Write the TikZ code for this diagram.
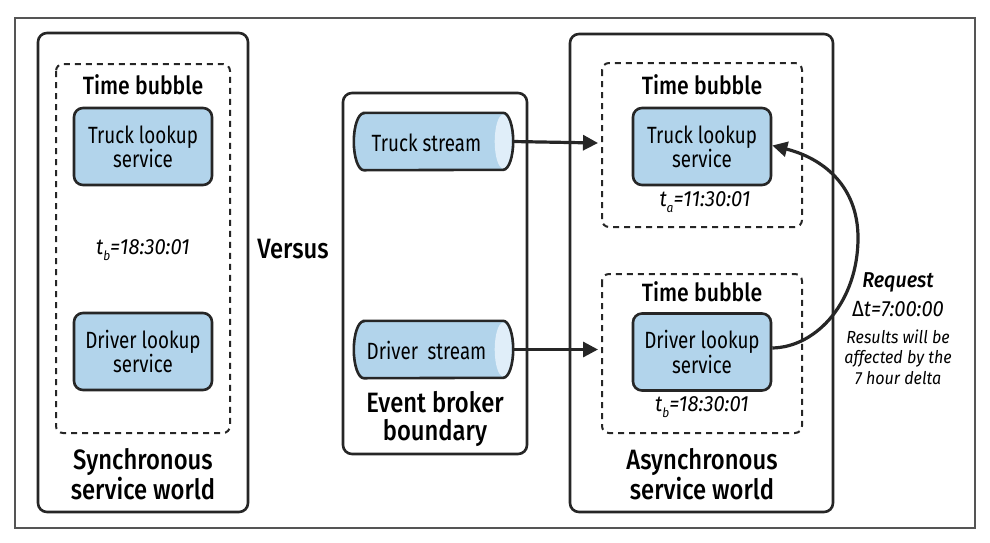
\documentclass[tikz,border=0pt]{standalone}
\usepackage{fontspec}
\setmainfont{Fira Sans}[FakeStretch=0.8]
\newfontfamily\med{Fira Sans Medium}[FakeStretch=0.85]
\newfontfamily\itf{Fira Sans}[FakeStretch=0.92]
\newfontfamily\meditf{Fira Sans Medium}[FakeStretch=0.92]
\usetikzlibrary{arrows.meta}
\definecolor{boxblue}{RGB}{178,212,235}
\definecolor{capblue}{RGB}{224,238,249}
\definecolor{edge}{RGB}{38,38,38}
\definecolor{framegray}{RGB}{85,85,85}
\newcommand{\sbs}[1]{{\fontsize{13}{13}\selectfont\raisebox{-6pt}{#1}}}
\begin{document}
\begin{tikzpicture}[x=1pt,y=-1pt,
  container/.style={draw=edge, line width=2.6pt, rounded corners=9pt},
  bubble/.style={draw=edge, line width=2pt, dash pattern=on 6pt off 5pt, rounded corners=7pt},
  service/.style={draw=edge, line width=2.6pt, rounded corners=9pt, fill=boxblue,
    minimum width=138pt, minimum height=77pt, align=center, inner sep=0pt,
    font=\fontsize{23.5}{21}\selectfont},
  streamslot/.style={minimum width=159pt, minimum height=57pt, inner sep=0pt},
  streamtext/.style={font=\fontsize{23.5}{21}\selectfont, inner sep=0pt},
  title/.style={font=\med\fontsize{25}{26}\selectfont, inner sep=0pt},
  bigtitle/.style={font=\med\fontsize{28}{27}\selectfont, align=center, inner sep=0pt},
  stamp/.style={font=\itf\itshape\fontsize{22}{20}\selectfont, inner sep=0pt},
  note/.style={font=\itf\itshape\fontsize{17.5}{20.5}\selectfont, align=center, inner sep=0pt},
  conn/.style={draw=edge, line width=3.2pt, -{Triangle[length=15pt,width=15pt]}}
]
\useasboundingbox (0,0) rectangle (990,542);
% outer frame
\draw[framegray, line width=1.3pt] (15,18) rectangle (975,528);

% ---------- Synchronous world ----------
\draw[container] (38,33) rectangle (248,512);
\draw[bubble] (56,64) rectangle (230,433);
\node[title] (ltb) at (143,85) {Time bubble};
\node[service] (ltruck) at (143,146.5) {Truck lookup\\service};
\node[stamp] (lstamp) at (143,250) {t\sbs{b}=18:30:01};
\node[service] (ldriver) at (143,351.5) {Driver lookup\\service};
\node[bigtitle] (lworld) at (143,474) {Synchronous\\service world};

% ---------- Versus ----------
\node[font=\med\fontsize{28}{28}\selectfont, inner sep=0pt] (versus) at (293,249) {Versus};

% ---------- Event broker ----------
\draw[container] (343,93) rectangle (527,454);
\node[streamslot] (tstream) at (433.5,141.5) {};
\node[streamslot] (dstream) at (433.5,349.5) {};
\foreach \s in {tstream,dstream}{
  \fill[boxblue] ([xshift=10pt]\s.north west) -- ([xshift=-10pt]\s.north east)
     arc[start angle=-90,end angle=90,x radius=10,y radius=28.5]
     -- ([xshift=10pt]\s.south west)
     arc[start angle=90,end angle=270,x radius=10,y radius=28.5] -- cycle;
  \fill[capblue] ([xshift=-10pt]\s.east) ellipse[x radius=8.5,y radius=27];
  \draw[edge, line width=2.6pt] ([xshift=10pt]\s.north west) -- ([xshift=-10pt]\s.north east)
     arc[start angle=-90,end angle=90,x radius=10,y radius=28.5]
     -- ([xshift=10pt]\s.south west)
     arc[start angle=90,end angle=270,x radius=10,y radius=28.5] -- cycle;
}
\node[streamtext] (tstext) at (426.5,143) {Truck stream};
\node[streamtext] (dstext) at (426.5,350) {Driver\hspace{0.2em} stream};
\node[bigtitle] (broker) at (435,419) {Event broker\\[1pt]boundary};

% ---------- Asynchronous world ----------
\draw[container] (570,34) rectangle (833,512);
\draw[bubble] (602,63) rectangle (802,227);
\draw[bubble] (602,274) rectangle (802,433);
\node[title] (rtb1) at (702,85) {Time bubble};
\node[service] (rtruck) at (702,146.5) {Truck lookup\\service};
\node[stamp] (rstampa) at (705,202) {t\sbs{a}=11:30:01};
\node[title] (rtb2) at (702,292) {Time bubble};
\node[service] (rdriver) at (702,352) {Driver lookup\\service};
\node[stamp] (rstampb) at (702,407) {t\sbs{b}=18:30:01};
\node[bigtitle] (rworld) at (702,474) {Asynchronous\\service world};

% ---------- connectors ----------
\coordinate (tin) at (598,143);
\coordinate (din) at (598,349.5);
\coordinate (bend) at (858,238);
\draw[conn] (tstream.east) -- (tin);
\draw[conn] (dstream.east) -- (din);
\draw[conn] ([yshift=4pt]rdriver.east) .. controls (818,347) and (858,300) .. (bend)
   .. controls (858,185) and (822,158) .. ([yshift=1pt]rtruck.east);

% ---------- request note ----------
\node[font=\meditf\itshape\fontsize{21.5}{21}\selectfont, inner sep=0pt] (req) at (898,282) {Request};
\node[font=\itf\itshape\fontsize{22}{22}\selectfont, inner sep=0pt] (delta) at (898,309) {{\upshape Δ}t=7:00:00};
\node[note] (res) at (898,357) {Results will be\\affected by the\\7 hour delta};
\end{tikzpicture}
\end{document}
